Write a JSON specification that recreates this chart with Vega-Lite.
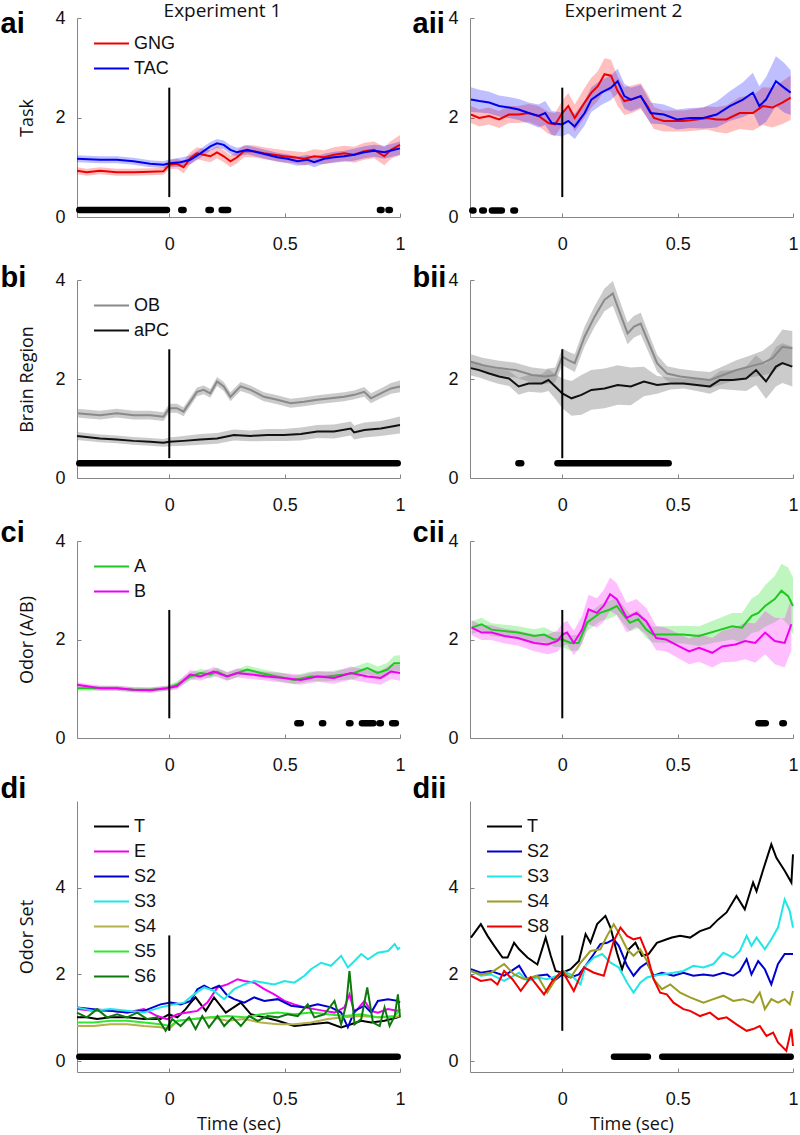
{
"$schema":"https://vega.github.io/schema/vega-lite/v6.json",
"autosize":{"type":"pad"},
"padding":{"left":0,"top":2,"right":0,"bottom":0},
"background":"white",
"config":{
 "view":{"stroke":null},
 "axis":{"domainColor":"#858585","tickColor":"#858585","tickSize":-4,"labelFont":"Liberation Sans","labelFontSize":18,"labelColor":"#111","titleFont":"Open Sans","titleFontSize":18,"titleFontWeight":"normal","titleColor":"#111","grid":false,"labelFlush":false,"labelOverlap":false},
 "axisX":{"labelPadding":22,"titlePadding":7},
 "axisY":{"labelPadding":16,"titlePadding":18},
 "legend":{"orient":"none","legendX":16,"legendY":13,"symbolType":"stroke","symbolSize":1225,"symbolStrokeWidth":2,"labelFont":"Liberation Sans","labelFontSize":18,"labelColor":"#111","labelOffset":4,"clipHeight":25,"rowPadding":0,"padding":0},
 "title":{"font":"Open Sans","color":"#111"}
},
"datasets":{
"ai":[
{"s":"GNG","t":-0.4,"m":0.93,"lo":0.86,"hi":1.0},{"s":"GNG","t":-0.358,"m":0.9,"lo":0.83,"hi":0.97},{"s":"GNG","t":-0.3,"m":0.93,"lo":0.86,"hi":1.0},{"s":"GNG","t":-0.228,"m":0.9,"lo":0.83,"hi":0.97},{"s":"GNG","t":-0.155,"m":0.9,"lo":0.83,"hi":0.97},{"s":"GNG","t":-0.083,"m":0.91,"lo":0.84,"hi":0.98},{"s":"GNG","t":-0.025,"m":0.92,"lo":0.85,"hi":0.99},{"s":"GNG","t":0,"m":1.05,"lo":0.96,"hi":1.14},{"s":"GNG","t":0.033,"m":1.07,"lo":0.97,"hi":1.17},{"s":"GNG","t":0.062,"m":1.0,"lo":0.88,"hi":1.12},{"s":"GNG","t":0.091,"m":1.18,"lo":1.06,"hi":1.3},{"s":"GNG","t":0.12,"m":1.28,"lo":1.16,"hi":1.4},{"s":"GNG","t":0.149,"m":1.25,"lo":1.13,"hi":1.37},{"s":"GNG","t":0.178,"m":1.22,"lo":1.1,"hi":1.34},{"s":"GNG","t":0.207,"m":1.3,"lo":1.18,"hi":1.42},{"s":"GNG","t":0.236,"m":1.22,"lo":1.1,"hi":1.34},{"s":"GNG","t":0.265,"m":1.12,"lo":1.0,"hi":1.24},{"s":"GNG","t":0.294,"m":1.2,"lo":1.08,"hi":1.32},{"s":"GNG","t":0.323,"m":1.32,"lo":1.2,"hi":1.44},{"s":"GNG","t":0.367,"m":1.32,"lo":1.2,"hi":1.44},{"s":"GNG","t":0.41,"m":1.28,"lo":1.16,"hi":1.4},{"s":"GNG","t":0.454,"m":1.25,"lo":1.13,"hi":1.37},{"s":"GNG","t":0.497,"m":1.22,"lo":1.1,"hi":1.34},{"s":"GNG","t":0.541,"m":1.2,"lo":1.08,"hi":1.32},{"s":"GNG","t":0.584,"m":1.17,"lo":1.04,"hi":1.3},{"s":"GNG","t":0.628,"m":1.22,"lo":1.08,"hi":1.36},{"s":"GNG","t":0.671,"m":1.2,"lo":1.06,"hi":1.34},{"s":"GNG","t":0.714,"m":1.25,"lo":1.1,"hi":1.4},{"s":"GNG","t":0.758,"m":1.28,"lo":1.13,"hi":1.43},{"s":"GNG","t":0.801,"m":1.25,"lo":1.09,"hi":1.41},{"s":"GNG","t":0.845,"m":1.32,"lo":1.15,"hi":1.49},{"s":"GNG","t":0.888,"m":1.35,"lo":1.18,"hi":1.52},{"s":"GNG","t":0.932,"m":1.22,"lo":1.04,"hi":1.4},{"s":"GNG","t":0.961,"m":1.35,"lo":1.17,"hi":1.53},{"s":"GNG","t":1.0,"m":1.45,"lo":1.25,"hi":1.65},
{"s":"TAC","t":-0.4,"m":1.17,"lo":1.1,"hi":1.24},{"s":"TAC","t":-0.3,"m":1.15,"lo":1.08,"hi":1.22},{"s":"TAC","t":-0.228,"m":1.15,"lo":1.08,"hi":1.22},{"s":"TAC","t":-0.155,"m":1.12,"lo":1.05,"hi":1.19},{"s":"TAC","t":-0.083,"m":1.07,"lo":1.0,"hi":1.14},{"s":"TAC","t":-0.025,"m":1.05,"lo":0.98,"hi":1.12},{"s":"TAC","t":0,"m":1.08,"lo":1.0,"hi":1.16},{"s":"TAC","t":0.048,"m":1.1,"lo":1.01,"hi":1.19},{"s":"TAC","t":0.091,"m":1.15,"lo":1.06,"hi":1.24},{"s":"TAC","t":0.135,"m":1.28,"lo":1.19,"hi":1.37},{"s":"TAC","t":0.178,"m":1.42,"lo":1.33,"hi":1.51},{"s":"TAC","t":0.207,"m":1.48,"lo":1.39,"hi":1.57},{"s":"TAC","t":0.236,"m":1.45,"lo":1.36,"hi":1.54},{"s":"TAC","t":0.265,"m":1.35,"lo":1.26,"hi":1.44},{"s":"TAC","t":0.294,"m":1.3,"lo":1.21,"hi":1.39},{"s":"TAC","t":0.338,"m":1.35,"lo":1.26,"hi":1.44},{"s":"TAC","t":0.381,"m":1.3,"lo":1.21,"hi":1.39},{"s":"TAC","t":0.425,"m":1.25,"lo":1.16,"hi":1.34},{"s":"TAC","t":0.468,"m":1.2,"lo":1.11,"hi":1.29},{"s":"TAC","t":0.512,"m":1.17,"lo":1.08,"hi":1.26},{"s":"TAC","t":0.555,"m":1.12,"lo":1.03,"hi":1.21},{"s":"TAC","t":0.599,"m":1.15,"lo":1.05,"hi":1.25},{"s":"TAC","t":0.628,"m":1.1,"lo":1.0,"hi":1.2},{"s":"TAC","t":0.671,"m":1.17,"lo":1.07,"hi":1.27},{"s":"TAC","t":0.714,"m":1.2,"lo":1.09,"hi":1.31},{"s":"TAC","t":0.758,"m":1.22,"lo":1.11,"hi":1.33},{"s":"TAC","t":0.801,"m":1.25,"lo":1.13,"hi":1.37},{"s":"TAC","t":0.845,"m":1.3,"lo":1.18,"hi":1.42},{"s":"TAC","t":0.888,"m":1.33,"lo":1.21,"hi":1.45},{"s":"TAC","t":0.932,"m":1.3,"lo":1.17,"hi":1.43},{"s":"TAC","t":0.975,"m":1.35,"lo":1.22,"hi":1.48},{"s":"TAC","t":1.0,"m":1.38,"lo":1.24,"hi":1.52}],
"aii":[
{"s":"GNG","t":-0.396,"m":2.06,"lo":1.89,"hi":2.23},{"s":"GNG","t":-0.36,"m":1.99,"lo":1.82,"hi":2.16},{"s":"GNG","t":-0.317,"m":2.03,"lo":1.86,"hi":2.2},{"s":"GNG","t":-0.274,"m":1.96,"lo":1.79,"hi":2.13},{"s":"GNG","t":-0.231,"m":2.06,"lo":1.89,"hi":2.23},{"s":"GNG","t":-0.189,"m":2.06,"lo":1.89,"hi":2.23},{"s":"GNG","t":-0.146,"m":2.09,"lo":1.91,"hi":2.27},{"s":"GNG","t":-0.103,"m":2.03,"lo":1.83,"hi":2.23},{"s":"GNG","t":-0.06,"m":1.89,"lo":1.67,"hi":2.11},{"s":"GNG","t":-0.031,"m":1.86,"lo":1.63,"hi":2.09},{"s":"GNG","t":0,"m":2.09,"lo":1.84,"hi":2.34},{"s":"GNG","t":0.026,"m":2.23,"lo":1.97,"hi":2.49},{"s":"GNG","t":0.054,"m":1.99,"lo":1.72,"hi":2.26},{"s":"GNG","t":0.097,"m":2.3,"lo":2.0,"hi":2.6},{"s":"GNG","t":0.126,"m":2.5,"lo":2.2,"hi":2.8},{"s":"GNG","t":0.154,"m":2.63,"lo":2.33,"hi":2.93},{"s":"GNG","t":0.183,"m":2.87,"lo":2.55,"hi":3.19},{"s":"GNG","t":0.211,"m":2.84,"lo":2.52,"hi":3.16},{"s":"GNG","t":0.24,"m":2.53,"lo":2.23,"hi":2.83},{"s":"GNG","t":0.269,"m":2.33,"lo":2.05,"hi":2.61},{"s":"GNG","t":0.297,"m":2.36,"lo":2.08,"hi":2.64},{"s":"GNG","t":0.34,"m":2.43,"lo":2.17,"hi":2.69},{"s":"GNG","t":0.369,"m":2.23,"lo":1.98,"hi":2.48},{"s":"GNG","t":0.397,"m":1.99,"lo":1.77,"hi":2.21},{"s":"GNG","t":0.44,"m":1.93,"lo":1.72,"hi":2.14},{"s":"GNG","t":0.483,"m":1.93,"lo":1.72,"hi":2.14},{"s":"GNG","t":0.526,"m":1.93,"lo":1.72,"hi":2.14},{"s":"GNG","t":0.583,"m":1.96,"lo":1.74,"hi":2.18},{"s":"GNG","t":0.626,"m":1.99,"lo":1.76,"hi":2.22},{"s":"GNG","t":0.669,"m":1.96,"lo":1.71,"hi":2.21},{"s":"GNG","t":0.711,"m":1.96,"lo":1.68,"hi":2.24},{"s":"GNG","t":0.769,"m":2.09,"lo":1.77,"hi":2.41},{"s":"GNG","t":0.826,"m":2.09,"lo":1.74,"hi":2.44},{"s":"GNG","t":0.869,"m":2.23,"lo":1.85,"hi":2.61},{"s":"GNG","t":0.911,"m":2.2,"lo":1.8,"hi":2.6},{"s":"GNG","t":0.954,"m":2.3,"lo":1.87,"hi":2.73},{"s":"GNG","t":0.99,"m":2.4,"lo":1.95,"hi":2.85},
{"s":"TAC","t":-0.396,"m":2.36,"lo":2.11,"hi":2.61},{"s":"TAC","t":-0.36,"m":2.33,"lo":2.1,"hi":2.56},{"s":"TAC","t":-0.317,"m":2.3,"lo":2.08,"hi":2.52},{"s":"TAC","t":-0.274,"m":2.23,"lo":2.02,"hi":2.44},{"s":"TAC","t":-0.231,"m":2.2,"lo":1.99,"hi":2.41},{"s":"TAC","t":-0.189,"m":2.16,"lo":1.95,"hi":2.37},{"s":"TAC","t":-0.146,"m":2.09,"lo":1.88,"hi":2.3},{"s":"TAC","t":-0.103,"m":2.03,"lo":1.8,"hi":2.26},{"s":"TAC","t":-0.074,"m":2.09,"lo":1.85,"hi":2.33},{"s":"TAC","t":-0.046,"m":1.89,"lo":1.65,"hi":2.13},{"s":"TAC","t":0,"m":1.86,"lo":1.62,"hi":2.1},{"s":"TAC","t":0.026,"m":1.93,"lo":1.68,"hi":2.18},{"s":"TAC","t":0.054,"m":1.82,"lo":1.57,"hi":2.07},{"s":"TAC","t":0.097,"m":2.09,"lo":1.84,"hi":2.34},{"s":"TAC","t":0.126,"m":2.36,"lo":2.11,"hi":2.61},{"s":"TAC","t":0.169,"m":2.5,"lo":2.25,"hi":2.75},{"s":"TAC","t":0.211,"m":2.6,"lo":2.35,"hi":2.85},{"s":"TAC","t":0.24,"m":2.73,"lo":2.48,"hi":2.98},{"s":"TAC","t":0.269,"m":2.43,"lo":2.18,"hi":2.68},{"s":"TAC","t":0.297,"m":2.36,"lo":2.12,"hi":2.6},{"s":"TAC","t":0.34,"m":2.43,"lo":2.2,"hi":2.66},{"s":"TAC","t":0.383,"m":2.09,"lo":1.88,"hi":2.3},{"s":"TAC","t":0.44,"m":2.06,"lo":1.86,"hi":2.26},{"s":"TAC","t":0.497,"m":1.96,"lo":1.76,"hi":2.16},{"s":"TAC","t":0.554,"m":1.99,"lo":1.79,"hi":2.19},{"s":"TAC","t":0.611,"m":1.99,"lo":1.78,"hi":2.2},{"s":"TAC","t":0.669,"m":2.06,"lo":1.8,"hi":2.32},{"s":"TAC","t":0.726,"m":2.23,"lo":1.93,"hi":2.53},{"s":"TAC","t":0.783,"m":2.36,"lo":2.01,"hi":2.71},{"s":"TAC","t":0.826,"m":2.5,"lo":2.1,"hi":2.9},{"s":"TAC","t":0.854,"m":2.23,"lo":1.83,"hi":2.63},{"s":"TAC","t":0.883,"m":2.36,"lo":1.91,"hi":2.81},{"s":"TAC","t":0.926,"m":2.73,"lo":2.23,"hi":3.23},{"s":"TAC","t":0.961,"m":2.6,"lo":2.1,"hi":3.1},{"s":"TAC","t":0.99,"m":2.5,"lo":2.05,"hi":2.95}],
"bi":[
{"s":"OB","t":-0.4,"m":1.31,"lo":1.22,"hi":1.4},{"s":"OB","t":-0.3,"m":1.27,"lo":1.18,"hi":1.36},{"s":"OB","t":-0.228,"m":1.31,"lo":1.22,"hi":1.4},{"s":"OB","t":-0.155,"m":1.27,"lo":1.18,"hi":1.36},{"s":"OB","t":-0.083,"m":1.27,"lo":1.18,"hi":1.36},{"s":"OB","t":-0.025,"m":1.24,"lo":1.15,"hi":1.33},{"s":"OB","t":0,"m":1.41,"lo":1.32,"hi":1.5},{"s":"OB","t":0.033,"m":1.41,"lo":1.32,"hi":1.5},{"s":"OB","t":0.062,"m":1.34,"lo":1.25,"hi":1.43},{"s":"OB","t":0.12,"m":1.74,"lo":1.65,"hi":1.83},{"s":"OB","t":0.149,"m":1.78,"lo":1.69,"hi":1.87},{"s":"OB","t":0.178,"m":1.71,"lo":1.62,"hi":1.8},{"s":"OB","t":0.207,"m":1.95,"lo":1.86,"hi":2.04},{"s":"OB","t":0.236,"m":1.85,"lo":1.76,"hi":1.94},{"s":"OB","t":0.265,"m":1.64,"lo":1.55,"hi":1.73},{"s":"OB","t":0.309,"m":1.85,"lo":1.76,"hi":1.94},{"s":"OB","t":0.352,"m":1.78,"lo":1.69,"hi":1.87},{"s":"OB","t":0.41,"m":1.64,"lo":1.55,"hi":1.73},{"s":"OB","t":0.468,"m":1.58,"lo":1.49,"hi":1.67},{"s":"OB","t":0.526,"m":1.51,"lo":1.42,"hi":1.6},{"s":"OB","t":0.584,"m":1.54,"lo":1.45,"hi":1.63},{"s":"OB","t":0.642,"m":1.58,"lo":1.49,"hi":1.67},{"s":"OB","t":0.7,"m":1.61,"lo":1.52,"hi":1.7},{"s":"OB","t":0.758,"m":1.64,"lo":1.55,"hi":1.73},{"s":"OB","t":0.801,"m":1.68,"lo":1.59,"hi":1.77},{"s":"OB","t":0.845,"m":1.74,"lo":1.64,"hi":1.84},{"s":"OB","t":0.874,"m":1.61,"lo":1.51,"hi":1.71},{"s":"OB","t":0.917,"m":1.71,"lo":1.61,"hi":1.81},{"s":"OB","t":0.961,"m":1.81,"lo":1.7,"hi":1.92},{"s":"OB","t":1.0,"m":1.85,"lo":1.73,"hi":1.97},
{"s":"aPC","t":-0.4,"m":0.85,"lo":0.77,"hi":0.93},{"s":"aPC","t":-0.3,"m":0.8,"lo":0.72,"hi":0.88},{"s":"aPC","t":-0.228,"m":0.78,"lo":0.7,"hi":0.86},{"s":"aPC","t":-0.155,"m":0.75,"lo":0.67,"hi":0.83},{"s":"aPC","t":-0.083,"m":0.73,"lo":0.65,"hi":0.81},{"s":"aPC","t":-0.025,"m":0.71,"lo":0.63,"hi":0.79},{"s":"aPC","t":0,"m":0.73,"lo":0.64,"hi":0.82},{"s":"aPC","t":0.062,"m":0.75,"lo":0.65,"hi":0.85},{"s":"aPC","t":0.135,"m":0.78,"lo":0.67,"hi":0.89},{"s":"aPC","t":0.207,"m":0.8,"lo":0.69,"hi":0.91},{"s":"aPC","t":0.28,"m":0.87,"lo":0.76,"hi":0.98},{"s":"aPC","t":0.352,"m":0.85,"lo":0.74,"hi":0.96},{"s":"aPC","t":0.425,"m":0.87,"lo":0.75,"hi":0.99},{"s":"aPC","t":0.497,"m":0.87,"lo":0.75,"hi":0.99},{"s":"aPC","t":0.57,"m":0.89,"lo":0.76,"hi":1.02},{"s":"aPC","t":0.642,"m":0.94,"lo":0.81,"hi":1.07},{"s":"aPC","t":0.714,"m":0.94,"lo":0.8,"hi":1.08},{"s":"aPC","t":0.787,"m":1.0,"lo":0.86,"hi":1.14},{"s":"aPC","t":0.801,"m":0.92,"lo":0.78,"hi":1.06},{"s":"aPC","t":0.845,"m":0.97,"lo":0.82,"hi":1.12},{"s":"aPC","t":0.917,"m":1.0,"lo":0.85,"hi":1.15},{"s":"aPC","t":1.0,"m":1.07,"lo":0.9,"hi":1.24}],
"bii":[
{"s":"OB","t":-0.396,"m":2.35,"lo":2.2,"hi":2.5},{"s":"OB","t":-0.346,"m":2.28,"lo":2.13,"hi":2.43},{"s":"OB","t":-0.274,"m":2.22,"lo":2.07,"hi":2.37},{"s":"OB","t":-0.203,"m":2.18,"lo":2.03,"hi":2.33},{"s":"OB","t":-0.131,"m":2.08,"lo":1.93,"hi":2.23},{"s":"OB","t":-0.074,"m":2.05,"lo":1.9,"hi":2.2},{"s":"OB","t":-0.031,"m":2.08,"lo":1.93,"hi":2.23},{"s":"OB","t":0,"m":2.45,"lo":2.28,"hi":2.62},{"s":"OB","t":0.026,"m":2.38,"lo":2.21,"hi":2.55},{"s":"OB","t":0.054,"m":2.32,"lo":2.14,"hi":2.5},{"s":"OB","t":0.097,"m":2.86,"lo":2.66,"hi":3.06},{"s":"OB","t":0.14,"m":3.26,"lo":3.05,"hi":3.47},{"s":"OB","t":0.183,"m":3.6,"lo":3.37,"hi":3.83},{"s":"OB","t":0.219,"m":3.73,"lo":3.48,"hi":3.98},{"s":"OB","t":0.24,"m":3.46,"lo":3.22,"hi":3.7},{"s":"OB","t":0.283,"m":2.92,"lo":2.7,"hi":3.14},{"s":"OB","t":0.311,"m":3.06,"lo":2.84,"hi":3.28},{"s":"OB","t":0.34,"m":3.12,"lo":2.9,"hi":3.34},{"s":"OB","t":0.369,"m":2.79,"lo":2.59,"hi":2.99},{"s":"OB","t":0.411,"m":2.32,"lo":2.15,"hi":2.49},{"s":"OB","t":0.454,"m":2.11,"lo":1.96,"hi":2.26},{"s":"OB","t":0.511,"m":2.05,"lo":1.9,"hi":2.2},{"s":"OB","t":0.583,"m":2.01,"lo":1.86,"hi":2.16},{"s":"OB","t":0.64,"m":1.98,"lo":1.82,"hi":2.14},{"s":"OB","t":0.697,"m":2.08,"lo":1.9,"hi":2.26},{"s":"OB","t":0.754,"m":2.18,"lo":1.98,"hi":2.38},{"s":"OB","t":0.811,"m":2.25,"lo":2.03,"hi":2.47},{"s":"OB","t":0.869,"m":2.32,"lo":2.07,"hi":2.57},{"s":"OB","t":0.911,"m":2.42,"lo":2.12,"hi":2.72},{"s":"OB","t":0.954,"m":2.65,"lo":2.3,"hi":3.0},{"s":"OB","t":0.997,"m":2.62,"lo":2.27,"hi":2.97},
{"s":"aPC","t":-0.396,"m":2.22,"lo":2.07,"hi":2.37},{"s":"aPC","t":-0.36,"m":2.18,"lo":2.03,"hi":2.33},{"s":"aPC","t":-0.317,"m":2.11,"lo":1.96,"hi":2.26},{"s":"aPC","t":-0.274,"m":2.05,"lo":1.9,"hi":2.2},{"s":"aPC","t":-0.231,"m":2.01,"lo":1.86,"hi":2.16},{"s":"aPC","t":-0.189,"m":1.85,"lo":1.68,"hi":2.02},{"s":"aPC","t":-0.146,"m":1.91,"lo":1.74,"hi":2.08},{"s":"aPC","t":-0.089,"m":1.91,"lo":1.72,"hi":2.1},{"s":"aPC","t":-0.06,"m":1.98,"lo":1.76,"hi":2.2},{"s":"aPC","t":-0.031,"m":1.85,"lo":1.6,"hi":2.1},{"s":"aPC","t":0,"m":1.71,"lo":1.41,"hi":2.01},{"s":"aPC","t":0.04,"m":1.61,"lo":1.26,"hi":1.96},{"s":"aPC","t":0.083,"m":1.68,"lo":1.28,"hi":2.08},{"s":"aPC","t":0.126,"m":1.78,"lo":1.38,"hi":2.18},{"s":"aPC","t":0.183,"m":1.81,"lo":1.41,"hi":2.21},{"s":"aPC","t":0.24,"m":1.88,"lo":1.48,"hi":2.28},{"s":"aPC","t":0.297,"m":1.85,"lo":1.47,"hi":2.23},{"s":"aPC","t":0.354,"m":1.95,"lo":1.65,"hi":2.25},{"s":"aPC","t":0.411,"m":1.88,"lo":1.7,"hi":2.06},{"s":"aPC","t":0.469,"m":1.91,"lo":1.79,"hi":2.03},{"s":"aPC","t":0.526,"m":1.91,"lo":1.81,"hi":2.01},{"s":"aPC","t":0.583,"m":1.88,"lo":1.76,"hi":2.0},{"s":"aPC","t":0.64,"m":1.85,"lo":1.7,"hi":2.0},{"s":"aPC","t":0.683,"m":1.98,"lo":1.8,"hi":2.16},{"s":"aPC","t":0.74,"m":1.98,"lo":1.78,"hi":2.18},{"s":"aPC","t":0.797,"m":2.01,"lo":1.76,"hi":2.26},{"s":"aPC","t":0.84,"m":2.18,"lo":1.88,"hi":2.48},{"s":"aPC","t":0.883,"m":1.95,"lo":1.6,"hi":2.3},{"s":"aPC","t":0.926,"m":2.25,"lo":1.85,"hi":2.65},{"s":"aPC","t":0.954,"m":2.32,"lo":1.92,"hi":2.72},{"s":"aPC","t":0.997,"m":2.25,"lo":1.85,"hi":2.65}],
"ci":[
{"s":"A","t":-0.4,"m":1.01,"lo":0.96,"hi":1.06},{"s":"A","t":-0.3,"m":1.01,"lo":0.96,"hi":1.06},{"s":"A","t":-0.228,"m":1.01,"lo":0.96,"hi":1.06},{"s":"A","t":-0.155,"m":0.98,"lo":0.93,"hi":1.03},{"s":"A","t":-0.083,"m":0.98,"lo":0.93,"hi":1.03},{"s":"A","t":-0.01,"m":1.01,"lo":0.96,"hi":1.06},{"s":"A","t":0.033,"m":1.08,"lo":1.01,"hi":1.15},{"s":"A","t":0.091,"m":1.25,"lo":1.17,"hi":1.33},{"s":"A","t":0.135,"m":1.32,"lo":1.24,"hi":1.4},{"s":"A","t":0.178,"m":1.29,"lo":1.21,"hi":1.37},{"s":"A","t":0.207,"m":1.35,"lo":1.27,"hi":1.43},{"s":"A","t":0.251,"m":1.25,"lo":1.17,"hi":1.33},{"s":"A","t":0.294,"m":1.32,"lo":1.24,"hi":1.4},{"s":"A","t":0.338,"m":1.39,"lo":1.31,"hi":1.47},{"s":"A","t":0.396,"m":1.32,"lo":1.24,"hi":1.4},{"s":"A","t":0.468,"m":1.25,"lo":1.16,"hi":1.34},{"s":"A","t":0.541,"m":1.18,"lo":1.09,"hi":1.27},{"s":"A","t":0.613,"m":1.25,"lo":1.15,"hi":1.35},{"s":"A","t":0.686,"m":1.25,"lo":1.15,"hi":1.35},{"s":"A","t":0.758,"m":1.29,"lo":1.18,"hi":1.4},{"s":"A","t":0.801,"m":1.32,"lo":1.2,"hi":1.44},{"s":"A","t":0.859,"m":1.42,"lo":1.3,"hi":1.54},{"s":"A","t":0.903,"m":1.32,"lo":1.19,"hi":1.45},{"s":"A","t":0.946,"m":1.39,"lo":1.25,"hi":1.53},{"s":"A","t":0.975,"m":1.52,"lo":1.37,"hi":1.67},{"s":"A","t":1.0,"m":1.52,"lo":1.36,"hi":1.68},
{"s":"B","t":-0.4,"m":1.08,"lo":1.03,"hi":1.13},{"s":"B","t":-0.3,"m":1.01,"lo":0.96,"hi":1.06},{"s":"B","t":-0.228,"m":1.01,"lo":0.96,"hi":1.06},{"s":"B","t":-0.155,"m":0.98,"lo":0.93,"hi":1.03},{"s":"B","t":-0.083,"m":0.97,"lo":0.92,"hi":1.02},{"s":"B","t":-0.01,"m":1.01,"lo":0.96,"hi":1.06},{"s":"B","t":0.033,"m":1.05,"lo":0.98,"hi":1.12},{"s":"B","t":0.091,"m":1.29,"lo":1.2,"hi":1.38},{"s":"B","t":0.135,"m":1.25,"lo":1.16,"hi":1.34},{"s":"B","t":0.193,"m":1.35,"lo":1.26,"hi":1.44},{"s":"B","t":0.251,"m":1.25,"lo":1.16,"hi":1.34},{"s":"B","t":0.294,"m":1.32,"lo":1.23,"hi":1.41},{"s":"B","t":0.352,"m":1.29,"lo":1.2,"hi":1.38},{"s":"B","t":0.425,"m":1.25,"lo":1.16,"hi":1.34},{"s":"B","t":0.497,"m":1.22,"lo":1.12,"hi":1.32},{"s":"B","t":0.57,"m":1.18,"lo":1.08,"hi":1.28},{"s":"B","t":0.642,"m":1.25,"lo":1.14,"hi":1.36},{"s":"B","t":0.714,"m":1.22,"lo":1.1,"hi":1.34},{"s":"B","t":0.787,"m":1.32,"lo":1.19,"hi":1.45},{"s":"B","t":0.859,"m":1.25,"lo":1.12,"hi":1.38},{"s":"B","t":0.917,"m":1.22,"lo":1.08,"hi":1.36},{"s":"B","t":0.961,"m":1.35,"lo":1.2,"hi":1.5},{"s":"B","t":1.0,"m":1.32,"lo":1.16,"hi":1.48}],
"cii":[
{"s":"A","t":-0.393,"m":2.24,"lo":2.11,"hi":2.37},{"s":"A","t":-0.35,"m":2.31,"lo":2.18,"hi":2.44},{"s":"A","t":-0.307,"m":2.2,"lo":2.07,"hi":2.33},{"s":"A","t":-0.25,"m":2.17,"lo":2.04,"hi":2.3},{"s":"A","t":-0.193,"m":2.14,"lo":2.01,"hi":2.27},{"s":"A","t":-0.121,"m":2.07,"lo":1.93,"hi":2.21},{"s":"A","t":-0.079,"m":2.1,"lo":1.95,"hi":2.25},{"s":"A","t":-0.036,"m":2.0,"lo":1.85,"hi":2.15},{"s":"A","t":0,"m":2.0,"lo":1.85,"hi":2.15},{"s":"A","t":0.036,"m":1.93,"lo":1.77,"hi":2.09},{"s":"A","t":0.071,"m":1.93,"lo":1.77,"hi":2.09},{"s":"A","t":0.107,"m":2.34,"lo":2.17,"hi":2.51},{"s":"A","t":0.164,"m":2.54,"lo":2.37,"hi":2.71},{"s":"A","t":0.207,"m":2.61,"lo":2.43,"hi":2.79},{"s":"A","t":0.236,"m":2.68,"lo":2.5,"hi":2.86},{"s":"A","t":0.264,"m":2.51,"lo":2.33,"hi":2.69},{"s":"A","t":0.293,"m":2.34,"lo":2.16,"hi":2.52},{"s":"A","t":0.329,"m":2.41,"lo":2.23,"hi":2.59},{"s":"A","t":0.364,"m":2.2,"lo":2.03,"hi":2.37},{"s":"A","t":0.393,"m":2.1,"lo":1.94,"hi":2.26},{"s":"A","t":0.45,"m":2.1,"lo":1.93,"hi":2.27},{"s":"A","t":0.521,"m":2.1,"lo":1.92,"hi":2.28},{"s":"A","t":0.593,"m":2.07,"lo":1.87,"hi":2.27},{"s":"A","t":0.664,"m":2.17,"lo":1.94,"hi":2.4},{"s":"A","t":0.736,"m":2.27,"lo":2.0,"hi":2.54},{"s":"A","t":0.779,"m":2.24,"lo":1.94,"hi":2.54},{"s":"A","t":0.821,"m":2.48,"lo":2.13,"hi":2.83},{"s":"A","t":0.85,"m":2.54,"lo":2.16,"hi":2.92},{"s":"A","t":0.879,"m":2.68,"lo":2.26,"hi":3.1},{"s":"A","t":0.921,"m":2.82,"lo":2.35,"hi":3.29},{"s":"A","t":0.95,"m":2.99,"lo":2.44,"hi":3.54},{"s":"A","t":0.979,"m":2.88,"lo":2.3,"hi":3.46},{"s":"A","t":1.0,"m":2.68,"lo":2.1,"hi":3.26},
{"s":"B","t":-0.393,"m":2.24,"lo":2.09,"hi":2.39},{"s":"B","t":-0.35,"m":2.14,"lo":1.99,"hi":2.29},{"s":"B","t":-0.307,"m":2.14,"lo":1.99,"hi":2.29},{"s":"B","t":-0.25,"m":2.07,"lo":1.92,"hi":2.22},{"s":"B","t":-0.193,"m":2.03,"lo":1.88,"hi":2.18},{"s":"B","t":-0.121,"m":1.93,"lo":1.76,"hi":2.1},{"s":"B","t":-0.064,"m":1.9,"lo":1.7,"hi":2.1},{"s":"B","t":-0.021,"m":1.97,"lo":1.75,"hi":2.19},{"s":"B","t":0,"m":2.1,"lo":1.87,"hi":2.33},{"s":"B","t":0.021,"m":2.14,"lo":1.9,"hi":2.38},{"s":"B","t":0.05,"m":1.93,"lo":1.68,"hi":2.18},{"s":"B","t":0.086,"m":2.2,"lo":1.92,"hi":2.48},{"s":"B","t":0.114,"m":2.61,"lo":2.31,"hi":2.91},{"s":"B","t":0.15,"m":2.54,"lo":2.24,"hi":2.84},{"s":"B","t":0.179,"m":2.68,"lo":2.36,"hi":3.0},{"s":"B","t":0.207,"m":2.92,"lo":2.58,"hi":3.26},{"s":"B","t":0.236,"m":2.82,"lo":2.5,"hi":3.14},{"s":"B","t":0.279,"m":2.44,"lo":2.14,"hi":2.74},{"s":"B","t":0.321,"m":2.54,"lo":2.26,"hi":2.82},{"s":"B","t":0.364,"m":2.37,"lo":2.1,"hi":2.64},{"s":"B","t":0.407,"m":2.03,"lo":1.78,"hi":2.28},{"s":"B","t":0.45,"m":2.0,"lo":1.76,"hi":2.24},{"s":"B","t":0.507,"m":1.86,"lo":1.61,"hi":2.11},{"s":"B","t":0.55,"m":1.76,"lo":1.5,"hi":2.02},{"s":"B","t":0.593,"m":1.83,"lo":1.55,"hi":2.11},{"s":"B","t":0.65,"m":1.73,"lo":1.43,"hi":2.03},{"s":"B","t":0.693,"m":1.86,"lo":1.54,"hi":2.18},{"s":"B","t":0.75,"m":1.9,"lo":1.55,"hi":2.25},{"s":"B","t":0.793,"m":1.97,"lo":1.6,"hi":2.34},{"s":"B","t":0.836,"m":1.93,"lo":1.53,"hi":2.33},{"s":"B","t":0.879,"m":2.14,"lo":1.7,"hi":2.58},{"s":"B","t":0.921,"m":1.97,"lo":1.5,"hi":2.44},{"s":"B","t":0.964,"m":1.93,"lo":1.43,"hi":2.43},{"s":"B","t":0.993,"m":2.31,"lo":1.78,"hi":2.84}],
"di":[
{"s":"T","t":-0.4,"m":1.01},{"s":"T","t":-0.357,"m":1.01},{"s":"T","t":-0.313,"m":0.97},{"s":"T","t":-0.255,"m":1.01},{"s":"T","t":-0.183,"m":1.01},{"s":"T","t":-0.11,"m":0.97},{"s":"T","t":-0.038,"m":0.97},{"s":"T","t":-0.001,"m":1.08},{"s":"T","t":0.035,"m":1.01},{"s":"T","t":0.071,"m":1.2},{"s":"T","t":0.093,"m":1.35},{"s":"T","t":0.114,"m":1.47},{"s":"T","t":0.158,"m":1.16},{"s":"T","t":0.194,"m":1.47},{"s":"T","t":0.245,"m":1.12},{"s":"T","t":0.31,"m":1.35},{"s":"T","t":0.354,"m":1.08},{"s":"T","t":0.412,"m":1.01},{"s":"T","t":0.47,"m":0.93},{"s":"T","t":0.542,"m":0.81},{"s":"T","t":0.614,"m":0.85},{"s":"T","t":0.687,"m":0.89},{"s":"T","t":0.745,"m":0.78},{"s":"T","t":0.788,"m":0.85},{"s":"T","t":0.832,"m":0.93},{"s":"T","t":0.875,"m":0.89},{"s":"T","t":0.933,"m":0.93},{"s":"T","t":0.99,"m":1.01},{"s":"T","t":1.0,"m":1.04},
{"s":"E","t":-0.4,"m":1.2},{"s":"E","t":-0.328,"m":1.16},{"s":"E","t":-0.255,"m":1.16},{"s":"E","t":-0.183,"m":1.12},{"s":"E","t":-0.11,"m":1.2},{"s":"E","t":-0.052,"m":1.04},{"s":"E","t":-0.009,"m":0.97},{"s":"E","t":0.035,"m":1.08},{"s":"E","t":0.078,"m":1.12},{"s":"E","t":0.122,"m":1.16},{"s":"E","t":0.165,"m":1.35},{"s":"E","t":0.209,"m":1.7},{"s":"E","t":0.252,"m":1.77},{"s":"E","t":0.296,"m":1.89},{"s":"E","t":0.325,"m":1.85},{"s":"E","t":0.368,"m":1.81},{"s":"E","t":0.412,"m":1.66},{"s":"E","t":0.455,"m":1.54},{"s":"E","t":0.499,"m":1.39},{"s":"E","t":0.542,"m":1.31},{"s":"E","t":0.586,"m":1.24},{"s":"E","t":0.629,"m":1.2},{"s":"E","t":0.672,"m":1.16},{"s":"E","t":0.716,"m":1.12},{"s":"E","t":0.759,"m":1.24},{"s":"E","t":0.781,"m":1.54},{"s":"E","t":0.803,"m":1.12},{"s":"E","t":0.846,"m":1.39},{"s":"E","t":0.875,"m":1.16},{"s":"E","t":0.904,"m":1.12},{"s":"E","t":0.948,"m":1.2},{"s":"E","t":0.99,"m":1.16},{"s":"E","t":1.0,"m":1.2},
{"s":"S2","t":-0.4,"m":1.24},{"s":"S2","t":-0.328,"m":1.2},{"s":"S2","t":-0.255,"m":1.16},{"s":"S2","t":-0.183,"m":1.12},{"s":"S2","t":-0.11,"m":1.16},{"s":"S2","t":-0.038,"m":1.31},{"s":"S2","t":0.006,"m":1.35},{"s":"S2","t":0.049,"m":1.31},{"s":"S2","t":0.093,"m":1.39},{"s":"S2","t":0.122,"m":1.66},{"s":"S2","t":0.151,"m":1.74},{"s":"S2","t":0.18,"m":1.66},{"s":"S2","t":0.216,"m":1.74},{"s":"S2","t":0.252,"m":1.51},{"s":"S2","t":0.281,"m":1.43},{"s":"S2","t":0.325,"m":1.35},{"s":"S2","t":0.368,"m":1.47},{"s":"S2","t":0.412,"m":1.39},{"s":"S2","t":0.47,"m":1.43},{"s":"S2","t":0.528,"m":1.28},{"s":"S2","t":0.586,"m":1.24},{"s":"S2","t":0.643,"m":1.31},{"s":"S2","t":0.701,"m":1.24},{"s":"S2","t":0.745,"m":1.12},{"s":"S2","t":0.774,"m":0.78},{"s":"S2","t":0.803,"m":1.16},{"s":"S2","t":0.846,"m":1.28},{"s":"S2","t":0.875,"m":1.12},{"s":"S2","t":0.904,"m":1.39},{"s":"S2","t":0.948,"m":1.43},{"s":"S2","t":0.99,"m":1.39},{"s":"S2","t":1.0,"m":1.35},
{"s":"S3","t":-0.4,"m":1.24},{"s":"S3","t":-0.328,"m":1.16},{"s":"S3","t":-0.255,"m":1.2},{"s":"S3","t":-0.183,"m":1.16},{"s":"S3","t":-0.11,"m":1.12},{"s":"S3","t":-0.038,"m":1.24},{"s":"S3","t":0.02,"m":1.31},{"s":"S3","t":0.064,"m":1.35},{"s":"S3","t":0.107,"m":1.54},{"s":"S3","t":0.151,"m":1.7},{"s":"S3","t":0.194,"m":1.62},{"s":"S3","t":0.238,"m":1.43},{"s":"S3","t":0.281,"m":1.66},{"s":"S3","t":0.325,"m":1.77},{"s":"S3","t":0.368,"m":1.85},{"s":"S3","t":0.412,"m":1.81},{"s":"S3","t":0.455,"m":1.77},{"s":"S3","t":0.499,"m":1.85},{"s":"S3","t":0.542,"m":1.81},{"s":"S3","t":0.586,"m":1.97},{"s":"S3","t":0.614,"m":2.12},{"s":"S3","t":0.658,"m":2.27},{"s":"S3","t":0.701,"m":2.2},{"s":"S3","t":0.745,"m":2.43},{"s":"S3","t":0.774,"m":2.16},{"s":"S3","t":0.803,"m":2.31},{"s":"S3","t":0.832,"m":2.47},{"s":"S3","t":0.861,"m":2.35},{"s":"S3","t":0.904,"m":2.5},{"s":"S3","t":0.948,"m":2.54},{"s":"S3","t":0.977,"m":2.7},{"s":"S3","t":0.991,"m":2.58},{"s":"S3","t":1.0,"m":2.62},
{"s":"S4","t":-0.4,"m":0.81},{"s":"S4","t":-0.328,"m":0.81},{"s":"S4","t":-0.255,"m":0.85},{"s":"S4","t":-0.183,"m":0.85},{"s":"S4","t":-0.11,"m":0.81},{"s":"S4","t":-0.038,"m":0.78},{"s":"S4","t":-0.001,"m":0.74},{"s":"S4","t":0.035,"m":0.93},{"s":"S4","t":0.107,"m":0.97},{"s":"S4","t":0.18,"m":1.01},{"s":"S4","t":0.252,"m":0.93},{"s":"S4","t":0.325,"m":0.97},{"s":"S4","t":0.397,"m":0.89},{"s":"S4","t":0.47,"m":0.85},{"s":"S4","t":0.542,"m":0.85},{"s":"S4","t":0.614,"m":0.89},{"s":"S4","t":0.687,"m":0.97},{"s":"S4","t":0.759,"m":1.01},{"s":"S4","t":0.832,"m":1.04},{"s":"S4","t":0.904,"m":1.01},{"s":"S4","t":0.977,"m":1.01},{"s":"S4","t":1.0,"m":1.04},
{"s":"S5","t":-0.4,"m":0.89},{"s":"S5","t":-0.328,"m":0.89},{"s":"S5","t":-0.255,"m":0.93},{"s":"S5","t":-0.183,"m":0.93},{"s":"S5","t":-0.11,"m":0.89},{"s":"S5","t":-0.038,"m":0.85},{"s":"S5","t":0.006,"m":0.81},{"s":"S5","t":0.035,"m":0.93},{"s":"S5","t":0.107,"m":0.97},{"s":"S5","t":0.18,"m":1.01},{"s":"S5","t":0.252,"m":1.04},{"s":"S5","t":0.325,"m":1.01},{"s":"S5","t":0.397,"m":1.08},{"s":"S5","t":0.47,"m":1.12},{"s":"S5","t":0.542,"m":1.08},{"s":"S5","t":0.614,"m":1.12},{"s":"S5","t":0.687,"m":1.08},{"s":"S5","t":0.759,"m":1.04},{"s":"S5","t":0.832,"m":1.08},{"s":"S5","t":0.904,"m":1.01},{"s":"S5","t":0.977,"m":1.04},{"s":"S5","t":1.0,"m":1.2},
{"s":"S6","t":-0.4,"m":1.12},{"s":"S6","t":-0.357,"m":1.01},{"s":"S6","t":-0.313,"m":1.2},{"s":"S6","t":-0.27,"m":1.01},{"s":"S6","t":-0.226,"m":1.08},{"s":"S6","t":-0.183,"m":1.01},{"s":"S6","t":-0.139,"m":1.12},{"s":"S6","t":-0.096,"m":0.97},{"s":"S6","t":-0.052,"m":1.01},{"s":"S6","t":-0.016,"m":0.7},{"s":"S6","t":0.013,"m":0.97},{"s":"S6","t":0.049,"m":0.81},{"s":"S6","t":0.086,"m":1.01},{"s":"S6","t":0.114,"m":0.74},{"s":"S6","t":0.143,"m":1.04},{"s":"S6","t":0.172,"m":0.78},{"s":"S6","t":0.209,"m":1.04},{"s":"S6","t":0.238,"m":0.81},{"s":"S6","t":0.274,"m":1.01},{"s":"S6","t":0.31,"m":0.81},{"s":"S6","t":0.346,"m":1.04},{"s":"S6","t":0.383,"m":0.93},{"s":"S6","t":0.426,"m":1.04},{"s":"S6","t":0.47,"m":1.01},{"s":"S6","t":0.513,"m":1.08},{"s":"S6","t":0.557,"m":1.04},{"s":"S6","t":0.6,"m":1.31},{"s":"S6","t":0.629,"m":1.01},{"s":"S6","t":0.672,"m":1.08},{"s":"S6","t":0.716,"m":1.39},{"s":"S6","t":0.745,"m":0.85},{"s":"S6","t":0.767,"m":1.31},{"s":"S6","t":0.781,"m":2.08},{"s":"S6","t":0.803,"m":0.85},{"s":"S6","t":0.832,"m":0.97},{"s":"S6","t":0.858,"m":1.7},{"s":"S6","t":0.883,"m":0.89},{"s":"S6","t":0.912,"m":0.81},{"s":"S6","t":0.933,"m":1.24},{"s":"S6","t":0.955,"m":0.81},{"s":"S6","t":0.977,"m":1.04},{"s":"S6","t":0.991,"m":1.54},{"s":"S6","t":1.0,"m":1.01}],
"dii":[
{"s":"T","t":-0.396,"m":2.85},{"s":"T","t":-0.353,"m":3.16},{"s":"T","t":-0.324,"m":2.89},{"s":"T","t":-0.295,"m":2.66},{"s":"T","t":-0.259,"m":2.39},{"s":"T","t":-0.237,"m":2.39},{"s":"T","t":-0.209,"m":2.73},{"s":"T","t":-0.187,"m":2.58},{"s":"T","t":-0.151,"m":2.39},{"s":"T","t":-0.108,"m":2.23},{"s":"T","t":-0.072,"m":2.85},{"s":"T","t":-0.05,"m":2.43},{"s":"T","t":-0.029,"m":2.08},{"s":"T","t":0,"m":2.04},{"s":"T","t":0.036,"m":2.12},{"s":"T","t":0.072,"m":2.31},{"s":"T","t":0.101,"m":2.93},{"s":"T","t":0.122,"m":2.73},{"s":"T","t":0.151,"m":3.16},{"s":"T","t":0.187,"m":3.35},{"s":"T","t":0.209,"m":3.08},{"s":"T","t":0.237,"m":2.5},{"s":"T","t":0.259,"m":2.12},{"s":"T","t":0.288,"m":2.58},{"s":"T","t":0.317,"m":2.73},{"s":"T","t":0.345,"m":2.43},{"s":"T","t":0.374,"m":2.47},{"s":"T","t":0.41,"m":2.73},{"s":"T","t":0.453,"m":2.81},{"s":"T","t":0.475,"m":2.85},{"s":"T","t":0.511,"m":2.89},{"s":"T","t":0.554,"m":2.85},{"s":"T","t":0.597,"m":3.0},{"s":"T","t":0.64,"m":3.08},{"s":"T","t":0.676,"m":3.27},{"s":"T","t":0.712,"m":3.43},{"s":"T","t":0.755,"m":3.81},{"s":"T","t":0.791,"m":3.5},{"s":"T","t":0.827,"m":4.12},{"s":"T","t":0.842,"m":3.92},{"s":"T","t":0.871,"m":4.42},{"s":"T","t":0.906,"m":5.0},{"s":"T","t":0.928,"m":4.69},{"s":"T","t":0.964,"m":4.39},{"s":"T","t":0.993,"m":4.12},{"s":"T","t":1.0,"m":4.77},
{"s":"S2","t":-0.396,"m":2.12},{"s":"S2","t":-0.353,"m":2.04},{"s":"S2","t":-0.309,"m":2.08},{"s":"S2","t":-0.252,"m":1.97},{"s":"S2","t":-0.187,"m":2.2},{"s":"S2","t":-0.151,"m":1.89},{"s":"S2","t":-0.108,"m":1.97},{"s":"S2","t":-0.065,"m":2.0},{"s":"S2","t":-0.036,"m":1.85},{"s":"S2","t":0,"m":2.0},{"s":"S2","t":0.036,"m":1.93},{"s":"S2","t":0.072,"m":2.0},{"s":"S2","t":0.101,"m":2.2},{"s":"S2","t":0.137,"m":2.47},{"s":"S2","t":0.165,"m":2.7},{"s":"S2","t":0.194,"m":2.73},{"s":"S2","t":0.223,"m":2.81},{"s":"S2","t":0.245,"m":2.66},{"s":"S2","t":0.281,"m":2.2},{"s":"S2","t":0.309,"m":1.97},{"s":"S2","t":0.338,"m":2.16},{"s":"S2","t":0.367,"m":2.27},{"s":"S2","t":0.396,"m":1.97},{"s":"S2","t":0.432,"m":2.04},{"s":"S2","t":0.482,"m":1.97},{"s":"S2","t":0.525,"m":2.04},{"s":"S2","t":0.568,"m":1.97},{"s":"S2","t":0.612,"m":2.0},{"s":"S2","t":0.655,"m":1.97},{"s":"S2","t":0.698,"m":2.04},{"s":"S2","t":0.741,"m":1.97},{"s":"S2","t":0.77,"m":2.08},{"s":"S2","t":0.799,"m":2.35},{"s":"S2","t":0.82,"m":2.0},{"s":"S2","t":0.849,"m":2.31},{"s":"S2","t":0.878,"m":2.12},{"s":"S2","t":0.906,"m":1.77},{"s":"S2","t":0.935,"m":2.24},{"s":"S2","t":0.964,"m":2.47},{"s":"S2","t":1.0,"m":2.47},
{"s":"S3","t":-0.396,"m":2.08},{"s":"S3","t":-0.353,"m":1.97},{"s":"S3","t":-0.309,"m":2.0},{"s":"S3","t":-0.252,"m":1.85},{"s":"S3","t":-0.187,"m":2.04},{"s":"S3","t":-0.151,"m":1.85},{"s":"S3","t":-0.108,"m":1.93},{"s":"S3","t":-0.065,"m":1.89},{"s":"S3","t":-0.022,"m":1.97},{"s":"S3","t":0,"m":2.08},{"s":"S3","t":0.036,"m":2.0},{"s":"S3","t":0.079,"m":1.77},{"s":"S3","t":0.101,"m":2.2},{"s":"S3","t":0.137,"m":2.39},{"s":"S3","t":0.173,"m":2.47},{"s":"S3","t":0.209,"m":2.27},{"s":"S3","t":0.245,"m":2.16},{"s":"S3","t":0.281,"m":1.81},{"s":"S3","t":0.309,"m":1.58},{"s":"S3","t":0.338,"m":1.81},{"s":"S3","t":0.367,"m":1.93},{"s":"S3","t":0.396,"m":1.97},{"s":"S3","t":0.432,"m":2.0},{"s":"S3","t":0.482,"m":2.04},{"s":"S3","t":0.525,"m":2.08},{"s":"S3","t":0.568,"m":2.2},{"s":"S3","t":0.612,"m":2.16},{"s":"S3","t":0.655,"m":2.24},{"s":"S3","t":0.698,"m":2.5},{"s":"S3","t":0.741,"m":2.39},{"s":"S3","t":0.77,"m":2.54},{"s":"S3","t":0.799,"m":2.89},{"s":"S3","t":0.82,"m":2.66},{"s":"S3","t":0.842,"m":2.85},{"s":"S3","t":0.878,"m":2.58},{"s":"S3","t":0.906,"m":2.81},{"s":"S3","t":0.935,"m":3.08},{"s":"S3","t":0.964,"m":3.73},{"s":"S3","t":0.986,"m":3.46},{"s":"S3","t":1.0,"m":3.08},
{"s":"S4","t":-0.396,"m":2.08},{"s":"S4","t":-0.353,"m":2.0},{"s":"S4","t":-0.309,"m":2.04},{"s":"S4","t":-0.252,"m":2.24},{"s":"S4","t":-0.209,"m":2.0},{"s":"S4","t":-0.165,"m":1.89},{"s":"S4","t":-0.108,"m":1.97},{"s":"S4","t":-0.065,"m":1.58},{"s":"S4","t":-0.029,"m":1.89},{"s":"S4","t":0,"m":2.08},{"s":"S4","t":0.036,"m":1.93},{"s":"S4","t":0.079,"m":2.27},{"s":"S4","t":0.122,"m":2.54},{"s":"S4","t":0.165,"m":2.58},{"s":"S4","t":0.194,"m":2.89},{"s":"S4","t":0.223,"m":3.16},{"s":"S4","t":0.252,"m":2.89},{"s":"S4","t":0.281,"m":2.58},{"s":"S4","t":0.309,"m":2.43},{"s":"S4","t":0.338,"m":2.58},{"s":"S4","t":0.367,"m":2.31},{"s":"S4","t":0.396,"m":1.89},{"s":"S4","t":0.432,"m":1.66},{"s":"S4","t":0.468,"m":1.77},{"s":"S4","t":0.511,"m":1.58},{"s":"S4","t":0.554,"m":1.47},{"s":"S4","t":0.612,"m":1.35},{"s":"S4","t":0.655,"m":1.43},{"s":"S4","t":0.698,"m":1.51},{"s":"S4","t":0.741,"m":1.39},{"s":"S4","t":0.784,"m":1.43},{"s":"S4","t":0.827,"m":1.35},{"s":"S4","t":0.856,"m":1.58},{"s":"S4","t":0.878,"m":1.2},{"s":"S4","t":0.906,"m":1.43},{"s":"S4","t":0.935,"m":1.35},{"s":"S4","t":0.964,"m":1.43},{"s":"S4","t":0.986,"m":1.31},{"s":"S4","t":1.0,"m":1.62},
{"s":"S8","t":-0.396,"m":1.97},{"s":"S8","t":-0.353,"m":1.85},{"s":"S8","t":-0.309,"m":1.89},{"s":"S8","t":-0.281,"m":1.77},{"s":"S8","t":-0.252,"m":2.08},{"s":"S8","t":-0.216,"m":1.89},{"s":"S8","t":-0.18,"m":1.62},{"s":"S8","t":-0.137,"m":1.93},{"s":"S8","t":-0.079,"m":1.54},{"s":"S8","t":-0.043,"m":1.85},{"s":"S8","t":0,"m":2.08},{"s":"S8","t":0.05,"m":1.62},{"s":"S8","t":0.094,"m":2.16},{"s":"S8","t":0.137,"m":2.04},{"s":"S8","t":0.18,"m":1.97},{"s":"S8","t":0.223,"m":2.77},{"s":"S8","t":0.252,"m":3.08},{"s":"S8","t":0.281,"m":2.89},{"s":"S8","t":0.309,"m":2.81},{"s":"S8","t":0.338,"m":2.85},{"s":"S8","t":0.367,"m":2.47},{"s":"S8","t":0.396,"m":1.89},{"s":"S8","t":0.424,"m":1.58},{"s":"S8","t":0.453,"m":1.54},{"s":"S8","t":0.482,"m":1.35},{"s":"S8","t":0.525,"m":1.2},{"s":"S8","t":0.554,"m":1.16},{"s":"S8","t":0.597,"m":1.04},{"s":"S8","t":0.64,"m":1.12},{"s":"S8","t":0.676,"m":0.97},{"s":"S8","t":0.712,"m":1.01},{"s":"S8","t":0.755,"m":0.85},{"s":"S8","t":0.799,"m":0.7},{"s":"S8","t":0.827,"m":0.74},{"s":"S8","t":0.856,"m":0.81},{"s":"S8","t":0.885,"m":0.58},{"s":"S8","t":0.914,"m":0.66},{"s":"S8","t":0.935,"m":0.43},{"s":"S8","t":0.971,"m":0.24},{"s":"S8","t":0.993,"m":0.74},{"s":"S8","t":1.0,"m":0.35}],
"ai_s":[{"a":-0.39,"b":-0.01,"y":0.14},{"a":0.052,"b":0.062,"y":0.14},{"a":0.17,"b":0.18,"y":0.14},{"a":0.227,"b":0.255,"y":0.14},{"a":0.913,"b":0.92,"y":0.14},{"a":0.95,"b":0.956,"y":0.14}],
"aii_s":[{"a":-0.39,"b":-0.385,"y":0.13},{"a":-0.347,"b":-0.34,"y":0.13},{"a":-0.305,"b":-0.262,"y":0.13},{"a":-0.212,"b":-0.205,"y":0.13}],
"bi_s":[{"a":-0.39,"b":0.99,"y":0.3}],
"bii_s":[{"a":-0.19,"b":-0.178,"y":0.3},{"a":-0.021,"b":0.461,"y":0.3}],
"ci_s":[{"a":0.555,"b":0.57,"y":0.3},{"a":0.662,"b":0.667,"y":0.3},{"a":0.779,"b":0.785,"y":0.3},{"a":0.835,"b":0.885,"y":0.3},{"a":0.911,"b":0.917,"y":0.3},{"a":0.966,"b":0.982,"y":0.3}],
"cii_s":[{"a":0.85,"b":0.882,"y":0.3},{"a":0.954,"b":0.96,"y":0.3}],
"di_s":[{"a":-0.39,"b":0.99,"y":0.1}],
"dii_s":[{"a":0.224,"b":0.371,"y":0.1},{"a":0.433,"b":0.99,"y":0.1}]
},
"columns":2,
"spacing":{"row":63,"column":70},
"bounds":"flush",
"resolve":{"scale":{"x":"independent","y":"independent","color":"independent"},"legend":{"color":"independent"},"axis":{"x":"independent","y":"independent"}},
"concat":[
 {"width":323,"height":199,
  "title":{"text":"Experiment 1","anchor":"middle","frame":"group","fontSize":19,"fontWeight":"normal","dx":-16,"dy":27,"offset":0,"baseline":"alphabetic"},
  "resolve":{"axis":{"x":"independent"}},
  "layer":[
   {"data":{"name":"ai"},"transform":[{"filter":"datum.s === 'GNG'"}],"mark":{"type":"area","color":"#ff0000","opacity":0.25},"encoding":{"x":{"field":"t","type":"quantitative","scale":{"domain":[-0.4,1],"nice":false,"zero":false},"axis":{"values":[0,0.5,1],"format":"~g","title":null}},"y":{"field":"lo","type":"quantitative","scale":{"domain":[0,4],"nice":false,"zero":false},"axis":{"values":[0,2,4],"title":"Task"}},"y2":{"field":"hi"}}},
   {"data":{"name":"ai"},"transform":[{"filter":"datum.s === 'TAC'"}],"mark":{"type":"area","color":"#0000ff","opacity":0.25},"encoding":{"x":{"field":"t","type":"quantitative","axis":null},"y":{"field":"lo","type":"quantitative"},"y2":{"field":"hi"}}},
   {"data":{"name":"ai"},"mark":{"type":"line","strokeWidth":2},"encoding":{"x":{"field":"t","type":"quantitative","axis":null},"y":{"field":"m","type":"quantitative"},"color":{"field":"s","type":"nominal","scale":{"domain":["GNG","TAC"],"range":["#ee0000","#0000ee"]},"legend":{"title":null}}}},
   {"data":{"values":[{}]},"mark":{"type":"rule","color":"#000","strokeWidth":2},"encoding":{"x":{"datum":0,"axis":{"orient":"top","title":"ai","labels":false,"ticks":false,"domain":false,"titleAngle":0,"titleAlign":"left","titleBaseline":"alphabetic","titleX":-77,"titleY":14,"titleFont":"Liberation Sans","titleFontSize":29,"titleFontWeight":"bold","titleColor":"#000"}},"y":{"datum":0.4},"y2":{"datum":2.6}}},
   {"data":{"name":"ai_s"},"mark":{"type":"rule","color":"#000","strokeWidth":6.5,"strokeCap":"round"},"encoding":{"x":{"field":"a","type":"quantitative","axis":null},"x2":{"field":"b"},"y":{"field":"y","type":"quantitative"}}}
  ]},
 {"width":323,"height":199,
  "title":{"text":"Experiment 2","anchor":"middle","frame":"group","fontSize":19,"fontWeight":"normal","dx":-8,"dy":27,"offset":0,"baseline":"alphabetic"},
  "resolve":{"axis":{"x":"independent"}},
  "layer":[
   {"data":{"name":"aii"},"transform":[{"filter":"datum.s === 'GNG'"}],"mark":{"type":"area","color":"#ff0000","opacity":0.25},"encoding":{"x":{"field":"t","type":"quantitative","scale":{"domain":[-0.4,1],"nice":false,"zero":false},"axis":{"values":[0,0.5,1],"format":"~g","title":null}},"y":{"field":"lo","type":"quantitative","scale":{"domain":[0,4],"nice":false,"zero":false},"axis":{"values":[0,2,4],"title":null}},"y2":{"field":"hi"}}},
   {"data":{"name":"aii"},"transform":[{"filter":"datum.s === 'TAC'"}],"mark":{"type":"area","color":"#0000ff","opacity":0.25},"encoding":{"x":{"field":"t","type":"quantitative","axis":null},"y":{"field":"lo","type":"quantitative"},"y2":{"field":"hi"}}},
   {"data":{"name":"aii"},"mark":{"type":"line","strokeWidth":2},"encoding":{"x":{"field":"t","type":"quantitative","axis":null},"y":{"field":"m","type":"quantitative"},"color":{"field":"s","type":"nominal","scale":{"domain":["GNG","TAC"],"range":["#ee0000","#0000ee"]},"legend":null}}},
   {"data":{"values":[{}]},"mark":{"type":"rule","color":"#000","strokeWidth":2},"encoding":{"x":{"datum":0,"axis":{"orient":"top","title":"aii","labels":false,"ticks":false,"domain":false,"titleAngle":0,"titleAlign":"left","titleBaseline":"alphabetic","titleX":-58,"titleY":14,"titleFont":"Liberation Sans","titleFontSize":29,"titleFontWeight":"bold","titleColor":"#000"}},"y":{"datum":0.4},"y2":{"datum":2.6}}},
   {"data":{"name":"aii_s"},"mark":{"type":"rule","color":"#000","strokeWidth":6.5,"strokeCap":"round"},"encoding":{"x":{"field":"a","type":"quantitative","axis":null},"x2":{"field":"b"},"y":{"field":"y","type":"quantitative"}}}
  ]},
 {"width":323,"height":198,
  "resolve":{"axis":{"x":"independent"}},
  "layer":[
   {"data":{"name":"bi"},"transform":[{"filter":"datum.s === 'OB'"}],"mark":{"type":"area","color":"#8c8c8c","opacity":0.45},"encoding":{"x":{"field":"t","type":"quantitative","scale":{"domain":[-0.4,1],"nice":false,"zero":false},"axis":{"values":[0,0.5,1],"format":"~g","title":null}},"y":{"field":"lo","type":"quantitative","scale":{"domain":[0,4],"nice":false,"zero":false},"axis":{"values":[0,2,4],"title":"Brain Region"}},"y2":{"field":"hi"}}},
   {"data":{"name":"bi"},"transform":[{"filter":"datum.s === 'aPC'"}],"mark":{"type":"area","color":"#8c8c8c","opacity":0.45},"encoding":{"x":{"field":"t","type":"quantitative","axis":null},"y":{"field":"lo","type":"quantitative"},"y2":{"field":"hi"}}},
   {"data":{"name":"bi"},"mark":{"type":"line","strokeWidth":2},"encoding":{"x":{"field":"t","type":"quantitative","axis":null},"y":{"field":"m","type":"quantitative"},"color":{"field":"s","type":"nominal","scale":{"domain":["OB","aPC"],"range":["#8a8a8a","#111111"]},"legend":{"title":null}}}},
   {"data":{"values":[{}]},"mark":{"type":"rule","color":"#000","strokeWidth":2},"encoding":{"x":{"datum":0,"axis":{"orient":"top","title":"bi","labels":false,"ticks":false,"domain":false,"titleAngle":0,"titleAlign":"left","titleBaseline":"alphabetic","titleX":-77,"titleY":6,"titleFont":"Liberation Sans","titleFontSize":29,"titleFontWeight":"bold","titleColor":"#000"}},"y":{"datum":0.4},"y2":{"datum":2.6}}},
   {"data":{"name":"bi_s"},"mark":{"type":"rule","color":"#000","strokeWidth":6.5,"strokeCap":"round"},"encoding":{"x":{"field":"a","type":"quantitative","axis":null},"x2":{"field":"b"},"y":{"field":"y","type":"quantitative"}}}
  ]},
 {"width":323,"height":198,
  "resolve":{"axis":{"x":"independent"}},
  "layer":[
   {"data":{"name":"bii"},"transform":[{"filter":"datum.s === 'OB'"}],"mark":{"type":"area","color":"#8c8c8c","opacity":0.45},"encoding":{"x":{"field":"t","type":"quantitative","scale":{"domain":[-0.4,1],"nice":false,"zero":false},"axis":{"values":[0,0.5,1],"format":"~g","title":null}},"y":{"field":"lo","type":"quantitative","scale":{"domain":[0,4],"nice":false,"zero":false},"axis":{"values":[0,2,4],"title":null}},"y2":{"field":"hi"}}},
   {"data":{"name":"bii"},"transform":[{"filter":"datum.s === 'aPC'"}],"mark":{"type":"area","color":"#8c8c8c","opacity":0.45},"encoding":{"x":{"field":"t","type":"quantitative","axis":null},"y":{"field":"lo","type":"quantitative"},"y2":{"field":"hi"}}},
   {"data":{"name":"bii"},"mark":{"type":"line","strokeWidth":2},"encoding":{"x":{"field":"t","type":"quantitative","axis":null},"y":{"field":"m","type":"quantitative"},"color":{"field":"s","type":"nominal","scale":{"domain":["OB","aPC"],"range":["#8a8a8a","#111111"]},"legend":null}}},
   {"data":{"values":[{}]},"mark":{"type":"rule","color":"#000","strokeWidth":2},"encoding":{"x":{"datum":0,"axis":{"orient":"top","title":"bii","labels":false,"ticks":false,"domain":false,"titleAngle":0,"titleAlign":"left","titleBaseline":"alphabetic","titleX":-58,"titleY":6,"titleFont":"Liberation Sans","titleFontSize":29,"titleFontWeight":"bold","titleColor":"#000"}},"y":{"datum":0.4},"y2":{"datum":2.6}}},
   {"data":{"name":"bii_s"},"mark":{"type":"rule","color":"#000","strokeWidth":6.5,"strokeCap":"round"},"encoding":{"x":{"field":"a","type":"quantitative","axis":null},"x2":{"field":"b"},"y":{"field":"y","type":"quantitative"}}}
  ]},
 {"width":323,"height":197,
  "resolve":{"axis":{"x":"independent"}},
  "layer":[
   {"data":{"name":"ci"},"transform":[{"filter":"datum.s === 'A'"}],"mark":{"type":"area","color":"#00dd00","opacity":0.25},"encoding":{"x":{"field":"t","type":"quantitative","scale":{"domain":[-0.4,1],"nice":false,"zero":false},"axis":{"values":[0,0.5,1],"format":"~g","title":null}},"y":{"field":"lo","type":"quantitative","scale":{"domain":[0,4],"nice":false,"zero":false},"axis":{"values":[0,2,4],"title":"Odor (A/B)"}},"y2":{"field":"hi"}}},
   {"data":{"name":"ci"},"transform":[{"filter":"datum.s === 'B'"}],"mark":{"type":"area","color":"#ff00ff","opacity":0.25},"encoding":{"x":{"field":"t","type":"quantitative","axis":null},"y":{"field":"lo","type":"quantitative"},"y2":{"field":"hi"}}},
   {"data":{"name":"ci"},"mark":{"type":"line","strokeWidth":2},"encoding":{"x":{"field":"t","type":"quantitative","axis":null},"y":{"field":"m","type":"quantitative"},"color":{"field":"s","type":"nominal","scale":{"domain":["A","B"],"range":["#1ec81e","#f000f0"]},"legend":{"title":null}}}},
   {"data":{"values":[{}]},"mark":{"type":"rule","color":"#000","strokeWidth":2},"encoding":{"x":{"datum":0,"axis":{"orient":"top","title":"ci","labels":false,"ticks":false,"domain":false,"titleAngle":0,"titleAlign":"left","titleBaseline":"alphabetic","titleX":-77,"titleY":0,"titleFont":"Liberation Sans","titleFontSize":29,"titleFontWeight":"bold","titleColor":"#000"}},"y":{"datum":0.4},"y2":{"datum":2.6}}},
   {"data":{"name":"ci_s"},"mark":{"type":"rule","color":"#000","strokeWidth":6.5,"strokeCap":"round"},"encoding":{"x":{"field":"a","type":"quantitative","axis":null},"x2":{"field":"b"},"y":{"field":"y","type":"quantitative"}}}
  ]},
 {"width":323,"height":197,
  "resolve":{"axis":{"x":"independent"}},
  "layer":[
   {"data":{"name":"cii"},"transform":[{"filter":"datum.s === 'A'"}],"mark":{"type":"area","color":"#00dd00","opacity":0.25},"encoding":{"x":{"field":"t","type":"quantitative","scale":{"domain":[-0.4,1],"nice":false,"zero":false},"axis":{"values":[0,0.5,1],"format":"~g","title":null}},"y":{"field":"lo","type":"quantitative","scale":{"domain":[0,4],"nice":false,"zero":false},"axis":{"values":[0,2,4],"title":null}},"y2":{"field":"hi"}}},
   {"data":{"name":"cii"},"transform":[{"filter":"datum.s === 'B'"}],"mark":{"type":"area","color":"#ff00ff","opacity":0.25},"encoding":{"x":{"field":"t","type":"quantitative","axis":null},"y":{"field":"lo","type":"quantitative"},"y2":{"field":"hi"}}},
   {"data":{"name":"cii"},"mark":{"type":"line","strokeWidth":2},"encoding":{"x":{"field":"t","type":"quantitative","axis":null},"y":{"field":"m","type":"quantitative"},"color":{"field":"s","type":"nominal","scale":{"domain":["A","B"],"range":["#1ec81e","#f000f0"]},"legend":null}}},
   {"data":{"values":[{}]},"mark":{"type":"rule","color":"#000","strokeWidth":2},"encoding":{"x":{"datum":0,"axis":{"orient":"top","title":"cii","labels":false,"ticks":false,"domain":false,"titleAngle":0,"titleAlign":"left","titleBaseline":"alphabetic","titleX":-58,"titleY":0,"titleFont":"Liberation Sans","titleFontSize":29,"titleFontWeight":"bold","titleColor":"#000"}},"y":{"datum":0.4},"y2":{"datum":2.6}}},
   {"data":{"name":"cii_s"},"mark":{"type":"rule","color":"#000","strokeWidth":6.5,"strokeCap":"round"},"encoding":{"x":{"field":"a","type":"quantitative","axis":null},"x2":{"field":"b"},"y":{"field":"y","type":"quantitative"}}}
  ]},
 {"width":323,"height":271,
  "resolve":{"axis":{"x":"independent"}},
  "layer":[
   {"data":{"name":"di"},"mark":{"type":"line","strokeWidth":2},"encoding":{"x":{"field":"t","type":"quantitative","scale":{"domain":[-0.4,1],"nice":false,"zero":false},"axis":{"values":[0,0.5,1],"format":"~g","title":"Time (sec)"}},"y":{"field":"m","type":"quantitative","scale":{"domain":[-0.25,6],"nice":false,"zero":false},"axis":{"values":[0,2,4],"title":"Odor Set"}},"color":{"field":"s","type":"nominal","scale":{"domain":["T","E","S2","S3","S4","S5","S6"],"range":["#000000","#f000f0","#0000d0","#20e6e6","#b4b04a","#30e830","#0e7a0e"]},"legend":{"title":null}}}},
   {"data":{"values":[{}]},"mark":{"type":"rule","color":"#000","strokeWidth":2},"encoding":{"x":{"datum":0,"axis":{"orient":"top","title":"di","labels":false,"ticks":false,"domain":false,"titleAngle":0,"titleAlign":"left","titleBaseline":"alphabetic","titleX":-77,"titleY":-4,"titleFont":"Liberation Sans","titleFontSize":29,"titleFontWeight":"bold","titleColor":"#000"}},"y":{"datum":0.7},"y2":{"datum":2.9}}},
   {"data":{"name":"di_s"},"mark":{"type":"rule","color":"#000","strokeWidth":6.5,"strokeCap":"round"},"encoding":{"x":{"field":"a","type":"quantitative","axis":null},"x2":{"field":"b"},"y":{"field":"y","type":"quantitative"}}}
  ]},
 {"width":323,"height":271,
  "resolve":{"axis":{"x":"independent"}},
  "layer":[
   {"data":{"name":"dii"},"mark":{"type":"line","strokeWidth":2},"encoding":{"x":{"field":"t","type":"quantitative","scale":{"domain":[-0.4,1],"nice":false,"zero":false},"axis":{"values":[0,0.5,1],"format":"~g","title":"Time (sec)"}},"y":{"field":"m","type":"quantitative","scale":{"domain":[-0.25,6],"nice":false,"zero":false},"axis":{"values":[0,2,4],"title":null}},"color":{"field":"s","type":"nominal","scale":{"domain":["T","S2","S3","S4","S8"],"range":["#000000","#0000d0","#20e6e6","#9c9c22","#f00000"]},"legend":{"title":null}}}},
   {"data":{"values":[{}]},"mark":{"type":"rule","color":"#000","strokeWidth":2},"encoding":{"x":{"datum":0,"axis":{"orient":"top","title":"dii","labels":false,"ticks":false,"domain":false,"titleAngle":0,"titleAlign":"left","titleBaseline":"alphabetic","titleX":-58,"titleY":-4,"titleFont":"Liberation Sans","titleFontSize":29,"titleFontWeight":"bold","titleColor":"#000"}},"y":{"datum":0.7},"y2":{"datum":2.9}}},
   {"data":{"name":"dii_s"},"mark":{"type":"rule","color":"#000","strokeWidth":6.5,"strokeCap":"round"},"encoding":{"x":{"field":"a","type":"quantitative","axis":null},"x2":{"field":"b"},"y":{"field":"y","type":"quantitative"}}}
  ]}
]
}
